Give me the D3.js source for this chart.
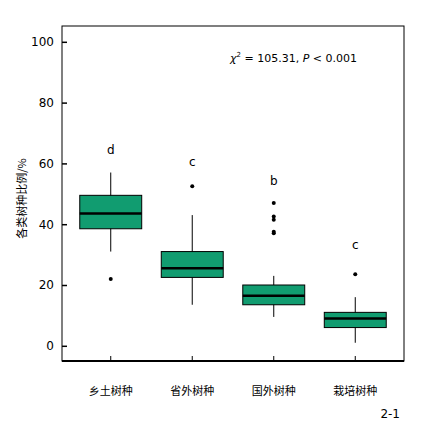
<!DOCTYPE html>
<html><head><meta charset="utf-8">
<script src="https://cdn.jsdelivr.net/npm/d3@7"></script>
<style>body{margin:0;background:#fff}text{font-family:"Noto Sans CJK SC","DejaVu Sans",sans-serif}</style>
</head><body><div id="chart"></div>
<script>
const categories = ["乡土树种", "省外树种", "国外树种", "栽培树种"];
const q1 = [38.5, 22.5, 13.5, 6];
const medians = [43.5, 25.5, 16.5, 9];
const q3 = [49.5, 31, 20, 11];
const whiskerLow = [31, 13.5, 9.5, 1];
const whiskerHigh = [57, 43, 23, 16];
const outliers = [[22], [52.5], [37, 37.5, 41.5, 42.5, 47], [23.5]];
const letters = ["d", "c", "b", "c"];
const letterY = [63, 59, 53, 32];
const yTicks = [0, 20, 40, 60, 80, 100];

const W = 432, H = 425;
const margin = { top: 26, right: 28, bottom: 64, left: 62 };
const width = W - margin.left - margin.right;
const height = H - margin.top - margin.bottom;

const svg = d3.select("#chart").append("svg").attr("width", W).attr("height", H);
const g = svg.append("g").attr("transform", `translate(${margin.left},${margin.top})`);

const x = d3.scaleBand().domain(categories).range([0, width]).paddingInner(0.24).paddingOuter(0.218);
const y = d3.scaleLinear().domain([-5, 105.2]).range([height, 0]);

// frame
g.append("rect").attr("width", width).attr("height", height)
    .attr("fill", "none").attr("stroke", "#000").attr("stroke-width", 1);
g.append("line").attr("x1", 0).attr("x2", width).attr("y1", height).attr("y2", height)
    .attr("stroke", "#000").attr("stroke-width", 2);

// y axis
const yAxis = g.append("g").call(d3.axisLeft(y).tickValues(yTicks).tickSize(-5).tickPadding(8));
yAxis.select(".domain").remove();
yAxis.selectAll("line").attr("stroke-width", 1.5);
yAxis.selectAll("text").style("font-size", "12px").style("font-family", "DejaVu Sans");

// x ticks
const xAxis = g.append("g").attr("transform", `translate(0,${height})`)
    .call(d3.axisBottom(x).tickSize(-5).tickPadding(26));
xAxis.select(".domain").remove();
xAxis.selectAll("text").style("font-size", "11px");

const bw = x.bandwidth();
const boxes = g.selectAll(".box").data(categories).enter().append("g")
    .attr("transform", d => `translate(${x(d)},0)`);

boxes.append("line").attr("x1", bw / 2).attr("x2", bw / 2)
    .attr("y1", (d, i) => y(whiskerLow[i])).attr("y2", (d, i) => y(whiskerHigh[i]))
    .attr("stroke", "#000");
boxes.append("rect").attr("width", bw)
    .attr("y", (d, i) => y(q3[i])).attr("height", (d, i) => y(q1[i]) - y(q3[i]))
    .attr("fill", "#119c70").attr("stroke", "#000").attr("stroke-width", 1);
boxes.append("line").attr("x1", 0).attr("x2", bw)
    .attr("y1", (d, i) => y(medians[i])).attr("y2", (d, i) => y(medians[i]))
    .attr("stroke", "#000").attr("stroke-width", 2.5);
boxes.each(function (d, i) {
    d3.select(this).selectAll("circle").data(outliers[i]).enter().append("circle")
        .attr("cx", bw / 2).attr("cy", v => y(v)).attr("r", 2).attr("fill", "#000");
});
boxes.append("text").attr("x", bw / 2).attr("y", (d, i) => y(letterY[i]))
    .attr("text-anchor", "middle").style("font-size", "12px").style("font-family", "DejaVu Sans")
    .text((d, i) => letters[i]);

// stat annotation
const st = g.append("text").attr("x", 168).attr("y", 36).style("font-size", "11px").style("font-family", "DejaVu Sans");
st.append("tspan").style("font-style", "italic").text("χ");
st.append("tspan").attr("dy", -5).style("font-size", "7px").text("2");
st.append("tspan").attr("dy", 5).text(" = 105.31, ");
st.append("tspan").style("font-style", "italic").text("P");
st.append("tspan").text(" < 0.001");

// y label
svg.append("text").attr("transform", `translate(26,${margin.top + height / 2 + 5}) rotate(-90)`)
    .attr("text-anchor", "middle").style("font-size", "11px").text("各类树种比例/%");

svg.append("text").attr("x", 400).attr("y", 418).attr("text-anchor", "end")
    .style("font-size", "12px").style("font-family", "DejaVu Sans").text("2-1");
</script></body></html>
